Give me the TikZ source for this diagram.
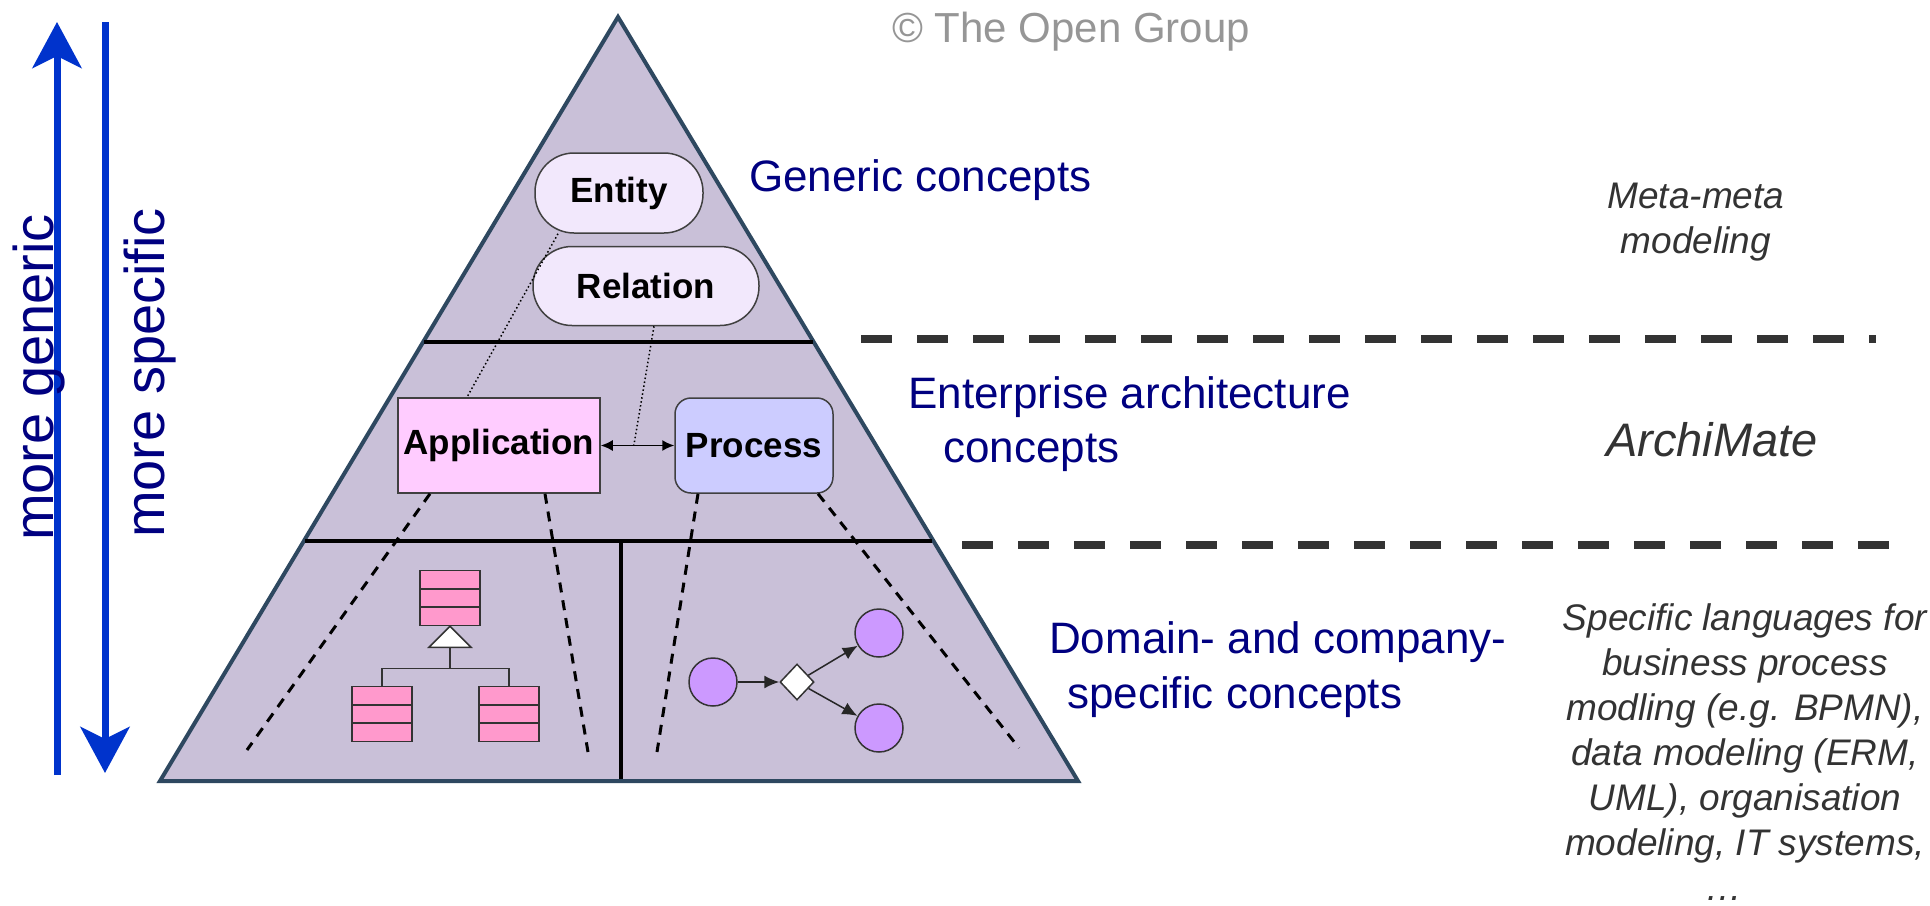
\documentclass[tikz,border=0pt]{standalone}
\usepackage{fontspec}
\setmainfont{Liberation Sans}
\usetikzlibrary{arrows.meta,shapes.geometric,calc}
\definecolor{pyrfill}{RGB}{201,192,216}
\definecolor{pyredge}{RGB}{46,72,96}
\definecolor{genfill}{RGB}{242,232,252}
\definecolor{appfill}{RGB}{255,204,255}
\definecolor{procfill}{RGB}{204,204,255}
\definecolor{clsfill}{RGB}{255,153,204}
\definecolor{circfill}{RGB}{204,153,255}
\definecolor{navy}{RGB}{0,0,128}
\definecolor{blu}{RGB}{0,51,204}
\definecolor{dgray}{RGB}{51,51,51}
\definecolor{lgray}{RGB}{150,150,150}
\tikzset{
  concept/.style={draw=black!75, line width=1.5pt, inner sep=0pt,
    font=\fontsize{35}{42}\selectfont\bfseries},
  cls/.style={draw=black!80, fill=clsfill, line width=1.5pt, inner sep=0pt,
    minimum width=60pt, minimum height=55pt,
    path picture={
      \draw[line width=1.5pt,black!80]
        ($(path picture bounding box.north west)!1/3!(path picture bounding box.south west)$) --
        ($(path picture bounding box.north east)!1/3!(path picture bounding box.south east)$)
        ($(path picture bounding box.north west)!2/3!(path picture bounding box.south west)$) --
        ($(path picture bounding box.north east)!2/3!(path picture bounding box.south east)$);}},
  bcirc/.style={circle, draw=black!80, fill=circfill, line width=1.5pt, minimum size=48pt, inner sep=0pt},
  navylabel/.style={text=navy, font=\fontsize{44}{53}\selectfont, inner sep=0pt, anchor=base west},
  graynote/.style={text=dgray, font=\fontsize{37}{45}\selectfont\itshape, inner sep=0pt, align=center},
  dashconn/.style={line width=3pt, dash pattern=on 10pt off 8pt},
  dotconn/.style={line width=1.5pt, dash pattern=on 1.5pt off 2.5pt},
  sepline/.style={line width=8pt, dgray, dash pattern=on 31pt off 25pt},
  flowarrow/.style={line width=1.5pt, black!85, -{Latex[length=15pt,width=13pt]}},
  bigarrow/.style={line width=7pt, blu, -{Stealth[length=46pt,width=49pt,inset=12pt]}}
}
\begin{document}
\begin{tikzpicture}[x=1pt,y=-1pt]
\useasboundingbox (0,0) rectangle (1930,905);

% pyramid
\draw[fill=pyrfill, draw=pyredge, line width=4pt, line join=miter] (618,17) -- (1078,781) -- (160,781) -- cycle;
\draw[line width=4pt] (424,342) -- (813,342);
\draw[line width=4pt] (305,541) -- (932,541);
\draw[line width=4pt] (621,541) -- (621,779);

% concept nodes
\node[concept, fill=genfill, rounded corners=39pt, minimum width=168pt, minimum height=80pt] (ent) at (619,193) {Entity};
\node[concept, fill=genfill, rounded corners=39pt, minimum width=226pt, minimum height=79pt] (rel) at (646,286) {Relation};
\node[concept, fill=appfill, minimum width=202pt, minimum height=95pt] (app) at (499,445.5) {Application};
\node[concept, fill=procfill, rounded corners=16pt, minimum width=158pt, minimum height=95pt] (proc) at (754,445.5) {Process};

% relations
\draw[line width=1.5pt, {Latex[length=12pt,width=11pt]}-{Latex[length=12pt,width=11pt]}] (app.east) -- (proc.west);
\draw[dotconn] ($(ent.south)+(-61,0)$) -- ($(app.north)+(-32,0)$);
\draw[dotconn] ($(rel.south)+(8,0)$) -- ($(app.east)!0.45!(proc.west)$);

% dashed refinement lines
\coordinate (ea) at (247,750);
\coordinate (eb) at (588,752);
\coordinate (ec) at (657,752);
\coordinate (ed) at (1019,748);
\draw[dashconn] ($(app.south)+(-69,0)$) -- (ea);
\draw[dashconn] ($(app.south)+(46,0)$) -- (eb);
\draw[dashconn] ($(proc.south)+(-56,0)$) -- (ec);
\draw[dashconn] ($(proc.south)+(64,0)$) -- (ed);

% UML classes
\node[cls] (c1) at (450,598) {};
\node[cls] (c2) at (382,714) {};
\node[cls] (c3) at (509,714) {};
\draw[line width=1.5pt, black!80, fill=white] (c1.south) -- ++(-21,21) -- ++(42,0) -- cycle;
\draw[line width=1.5pt, black!80] (c1.south) ++(0,21) -- ++(0,21) coordinate (gj);
\draw[line width=1.5pt, black!80] (c2.north) |- (gj) -| (c3.north);

% process flow
\node[bcirc] (p1) at (713,682) {};
\node[diamond, draw=black!80, fill=white, line width=1.5pt, inner sep=0pt, minimum width=34pt, minimum height=36pt] (dia) at (797,682) {};
\node[bcirc] (p2) at (879,633) {};
\node[bcirc] (p3) at (879,728) {};
\draw[flowarrow] (p1) -- (dia);
\draw[flowarrow] (dia) -- (p2);
\draw[flowarrow] (dia) -- (p3);

% level labels
\node[navylabel] (lg) at (749,191) {Generic concepts};
\node[navylabel] (le1) at (908,408) {Enterprise architecture};
\node[navylabel] (le2) at (943,462) {concepts};
\node[navylabel] (ld1) at (1049,653) {Domain- and company-};
\node[navylabel] (ld2) at (1067,708) {specific concepts};

% separators
\draw[sepline] (861,339) -- (1876,339);
\draw[sepline] (962,545) -- (1890,545);

% right notes (base anchor = baseline of the last line)
\node[graynote, anchor=base] (n1) at (1696,253) {Meta-meta\\modeling};
\node[graynote, anchor=base, font=\fontsize{47}{56}\selectfont\itshape] (n2) at (1712,456) {ArchiMate};
\node[graynote, anchor=base] (n3) at (1745,900.5) {Specific languages for\\business process\\modling (e.g. BPMN),\\data modeling (ERM,\\UML), organisation\\modeling, IT systems,\\…\rule{42pt}{0pt}};

% copyright
\node[text=lgray, font=\fontsize{42}{50}\selectfont, inner sep=0pt, anchor=base west] (copy) at (892,42) {© The Open Group};

% vertical arrows
\coordinate (ua0) at (57,775);
\coordinate (ua1) at (57,22);
\coordinate (da0) at (105,22);
\coordinate (da1) at (105,773);
\draw[bigarrow] (ua0) -- (ua1);
\draw[bigarrow] (da0) -- (da1);
\node[navylabel, font=\fontsize{56}{66}\selectfont, rotate=90] (mg) at (53,541) {more generic};
\node[navylabel, font=\fontsize{56}{66}\selectfont, rotate=90] (ms) at (164,538) {more specific};
\end{tikzpicture}
\end{document}
